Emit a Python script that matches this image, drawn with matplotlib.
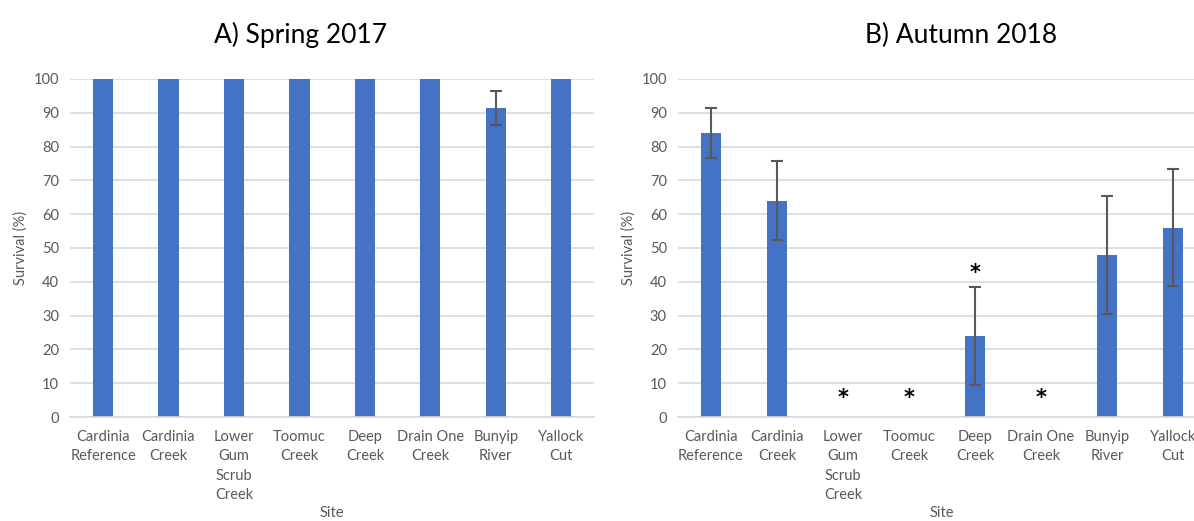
import matplotlib
matplotlib.use("Agg")
import matplotlib.pyplot as plt
import numpy as np

plt.rcParams['font.family'] = ['Lato', 'DejaVu Sans']

sites = ["Cardinia\nReference", "Cardinia\nCreek", "Lower\nGum\nScrub\nCreek",
         "Toomuc\nCreek", "Deep\nCreek", "Drain One\nCreek", "Bunyip\nRiver", "Yallock\nCut"]

spring_survival = [100, 100, 100, 100, 100, 100, 91.5, 100]
spring_err = [0, 0, 0, 0, 0, 0, 5, 0]

autumn_survival = [84, 64, 0, 0, 24, 0, 48, 56]
autumn_err = [7.5, 11.7, 0, 0, 14.6, 0, 17.4, 17.3]

# sites flagged with an asterisk in the autumn panel, and the height of each marker
star_sites = [2, 3, 4, 5]
star_heights = [5.5, 5.5, 42.5, 5.5]

bar_color = "#4472C4"
grid_color = "#D9D9D9"
text_color = "#595959"

fig = plt.figure(figsize=(11.94, 5.21), dpi=100)
ax1 = fig.add_axes([0.0589, 0.1996, 0.4385, 0.6488])
ax2 = fig.add_axes([0.5678, 0.1996, 0.4422, 0.6488])


def style(ax, title, title_x):
    x = np.arange(len(sites))
    ax.set_xlim(-0.5, len(sites) - 0.5)
    ax.set_ylim(0, 100)
    ax.set_yticks(np.arange(0, 101, 10))
    ax.set_xticks(x)
    ax.set_xticklabels(sites, fontsize=10.5, color=text_color, linespacing=1.5)
    ax.tick_params(axis='both', length=0, colors=text_color)
    ax.tick_params(axis='y', labelsize=10.5, pad=8)
    ax.tick_params(axis='x', pad=9)
    for s in ["top", "right", "left"]:
        ax.spines[s].set_visible(False)
    ax.spines["bottom"].set_color(grid_color)
    ax.spines["bottom"].set_linewidth(1.2)
    ax.yaxis.grid(True, color=grid_color, linewidth=1.2)
    ax.set_axisbelow(True)
    ax.set_ylabel("Survival (%)", fontsize=10.5, color=text_color, labelpad=4)
    ax.set_xlabel("Site", fontsize=10.5, color=text_color)
    ax.xaxis.set_label_coords(0.5, -0.262)
    ax.xaxis.label.set_va("top")
    ax.set_title(title, fontsize=19, color="black", pad=26, x=title_x)


x = np.arange(len(sites))
ax1.bar(x, spring_survival, width=0.31, color=bar_color, zorder=2)
ax1.errorbar(x, spring_survival,
             yerr=[e if e > 0 else np.nan for e in spring_err],
             fmt="none", ecolor="#595959", elinewidth=1.5, capsize=4, capthick=1.5, zorder=3)
style(ax1, "A) Spring 2017", 0.44)

ax2.bar(x, autumn_survival, width=0.31, color=bar_color, zorder=2)
ax2.errorbar(x, autumn_survival,
             yerr=[e if e > 0 else np.nan for e in autumn_err],
             fmt="none", ecolor="#595959", elinewidth=1.5, capsize=4, capthick=1.5, zorder=3)
for i, h in zip(star_sites, star_heights):
    ax2.text(x[i], h, "*", ha="center", va="center", fontsize=15, color="black",
             family="DejaVu Sans", fontweight="bold")
style(ax2, "B) Autumn 2018", 0.536)

fig.savefig("out.png", dpi=100)
